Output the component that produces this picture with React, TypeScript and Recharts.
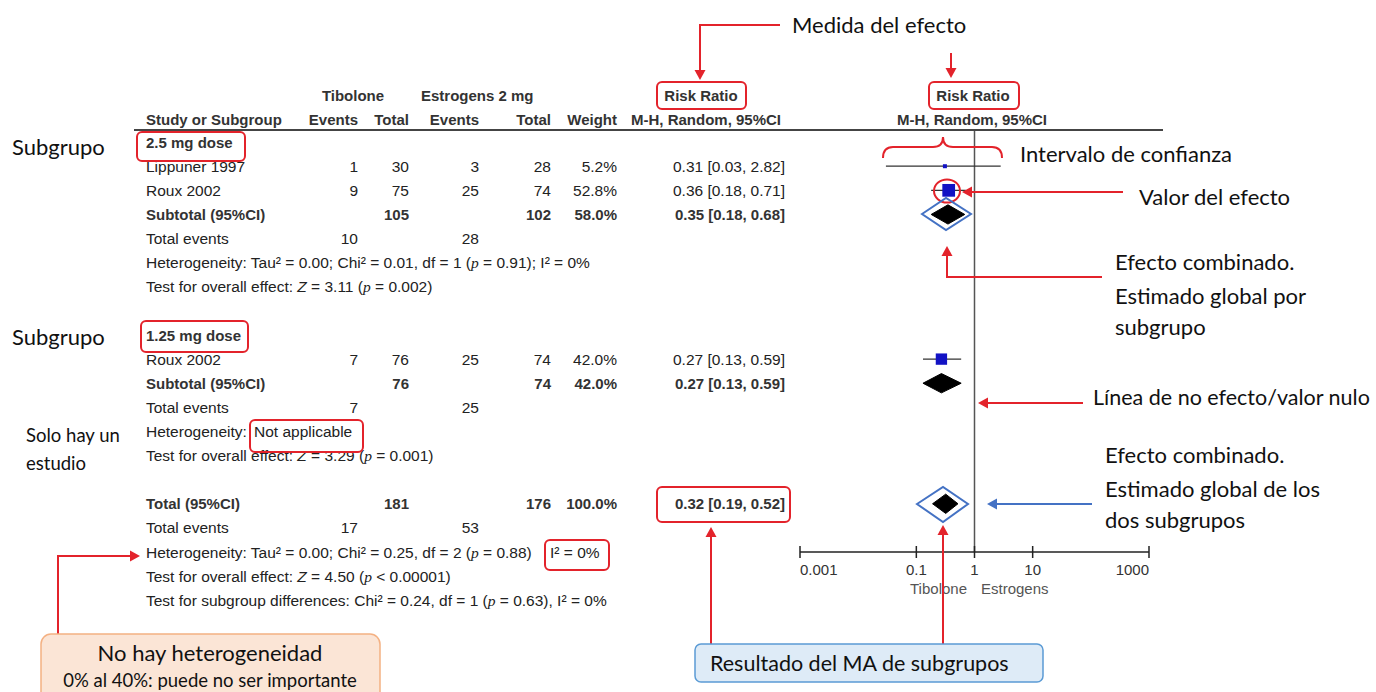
import React from 'react';
import { ComposedChart, XAxis, YAxis, Scatter, ErrorBar, Area, ReferenceLine } from 'recharts';

// ---- data ----
const studyNames = ['Lippuner 1997', 'Roux 2002', 'Roux 2002'];
const studyRows = [1, 2, 9];
const tibEvents = [1, 9, 7];
const tibTotal = [30, 75, 76];
const estEvents = [3, 25, 25];
const estTotal = [28, 74, 74];
const studyWeight = [5.2, 52.8, 42.0];
const studyRR = [0.31, 0.36, 0.27];
const studyLow = [0.03, 0.18, 0.13];
const studyHigh = [2.82, 0.71, 0.59];

const pooledNames = ['Subtotal (95%CI)', 'Subtotal (95%CI)', 'Total (95%CI)'];
const pooledRows = [3, 10, 15];
const pooledTibTotal = [105, 76, 181];
const pooledEstTotal = [102, 74, 176];
const pooledWeight = ['58.0%', '42.0%', '100.0%'];
const pooledRR = [0.35, 0.27, 0.32];
const pooledLow = [0.18, 0.13, 0.19];
const pooledHigh = [0.68, 0.59, 0.52];

const eventRows = [4, 11, 16];
const tibEventTotals = [10, 7, 17];
const estEventTotals = [28, 25, 53];

const axisTicks = [0.001, 0.1, 1, 10, 1000];

// ---- layout ----
const W = 1376;
const H = 692;
const MARGIN = { top: 118, right: 227, bottom: 110, left: 800 };
const X_AXIS_H = 30;
const AXIS_Y = H - MARGIN.bottom - X_AXIS_H;
const ROW_MIN = -1;
const ROW_MAX = 17;
const ROW_H = (AXIS_Y - MARGIN.top) / (ROW_MAX - ROW_MIN);
const rowY = (r: number) => MARGIN.top + (r - ROW_MIN) * ROW_H;
const DIAMOND_H = 0.4;

const RED = '#e3232b';
const BLUE = '#4472c4';
const TABLE_FONT = "'Liberation Sans', Arial, sans-serif";
const NOTE_FONT = "Lato, 'Open Sans', sans-serif";
const FS = 15.5;
const FS_BOLD = 15;

const studyData = studyRR.map((rr, i) => ({
  x: rr,
  row: studyRows[i],
  weight: studyWeight[i],
  err: [rr - studyLow[i], studyHigh[i] - rr],
}));

const diamondData = pooledRR.map((rr, i) => [
  { x: pooledLow[i], band: [pooledRows[i], pooledRows[i]] },
  { x: rr, band: [pooledRows[i] - DIAMOND_H, pooledRows[i] + DIAMOND_H] },
  { x: pooledHigh[i], band: [pooledRows[i], pooledRows[i]] },
]);

const ci = (rr: number, lo: number, hi: number) =>
  `${rr.toFixed(2)} [${lo.toFixed(2)}, ${hi.toFixed(2)}]`;

const StudySquare = (props: any) => {
  const { cx, cy, payload } = props;
  const s = Math.sqrt(payload.weight) * 1.75;
  return <rect x={cx - s / 2} y={cy - s / 2} width={s} height={s} fill="#1212c4" />;
};

const LogTick = (props: any) => {
  const { x, payload } = props;
  const v = payload.value;
  const anchor = v === axisTicks[0] ? 'start' : v === axisTicks[axisTicks.length - 1] ? 'end' : 'middle';
  return (
    <g>
      <line x1={x} x2={x} y1={AXIS_Y - 6} y2={AXIS_Y + 6} stroke="#222" strokeWidth={1.5} />
      <text x={x} y={AXIS_Y + 23} textAnchor={anchor} fontFamily={TABLE_FONT} fontSize={15} fill="#333">
        {String(v)}
      </text>
    </g>
  );
};

const T = ({ x, y, children, anchor = 'end', bold = false }: any) => (
  <text x={x} y={y + 5.5} textAnchor={anchor} fontFamily={TABLE_FONT} fontSize={bold ? FS_BOLD : FS}
    fontWeight={bold ? 'bold' : 'normal'} fill={bold ? '#333' : '#222'}>
    {children}
  </text>
);

const Pi = () => <tspan fontFamily="'Liberation Serif', serif" fontStyle="italic">p</tspan>;
const Zi = () => <tspan fontStyle="italic">Z</tspan>;

const N = ({ x, y, children, size = 22, anchor = 'start' }: any) => (
  <text x={x} y={y + size * 0.36} textAnchor={anchor} fontFamily={NOTE_FONT} fontSize={size} fill="#111">
    {children}
  </text>
);

const Arrow = ({ pts, color = RED, w = 2 }: { pts: number[][]; color?: string; w?: number }) => {
  const [x1, y1] = pts[pts.length - 2];
  const [x2, y2] = pts[pts.length - 1];
  const len = Math.hypot(x2 - x1, y2 - y1);
  const ux = (x2 - x1) / len;
  const uy = (y2 - y1) / len;
  const hl = 10;
  const hw = 5.5;
  const bx = x2 - ux * hl;
  const by = y2 - uy * hl;
  const line = [...pts.slice(0, -1), [bx, by]].map(p => p.join(',')).join(' ');
  const head = `${x2},${y2} ${bx - uy * hw},${by + ux * hw} ${bx + uy * hw},${by - ux * hw}`;
  return (
    <g>
      <polyline points={line} fill="none" stroke={color} strokeWidth={w} />
      <polygon points={head} fill={color} />
    </g>
  );
};

const Box = ({ x, y, w, h }: any) => (
  <rect x={x} y={y} width={w} height={h} rx={5} fill="none" stroke={RED} strokeWidth={2} />
);

const Overlay = () => {
  const C = { ev1: 358, tot1: 409, ev2: 479, tot2: 551, wt: 617, rr: 785 };
  return (
    <svg width={W} height={H} style={{ position: 'absolute', left: 0, top: 0, pointerEvents: 'none' }}>
      {/* headers */}
      <T x={353} y={95} anchor="middle" bold>Tibolone</T>
      <T x={421} y={95} anchor="start" bold>Estrogens 2 mg</T>
      <T x={701} y={95} anchor="middle" bold>Risk Ratio</T>
      <T x={973} y={95} anchor="middle" bold>Risk Ratio</T>
      <T x={146} y={119} anchor="start" bold>Study or Subgroup</T>
      <T x={C.ev1} y={119} bold>Events</T>
      <T x={C.tot1} y={119} bold>Total</T>
      <T x={C.ev2} y={119} bold>Events</T>
      <T x={C.tot2} y={119} bold>Total</T>
      <T x={C.wt} y={119} bold>Weight</T>
      <T x={781} y={119} bold>M-H, Random, 95%CI</T>
      <T x={972} y={119} anchor="middle" bold>M-H, Random, 95%CI</T>
      <line x1={134} x2={1163} y1={130} y2={130} stroke="#444" strokeWidth={2} />

      {/* subgroup titles */}
      <T x={146} y={rowY(0)} anchor="start" bold>2.5 mg dose</T>
      <T x={146} y={rowY(8)} anchor="start" bold>1.25 mg dose</T>

      {/* study rows */}
      {studyNames.map((name, i) => {
        const y = rowY(studyRows[i]);
        return (
          <g key={'s' + i}>
            <T x={146} y={y} anchor="start">{name}</T>
            <T x={C.ev1} y={y}>{tibEvents[i]}</T>
            <T x={C.tot1} y={y}>{tibTotal[i]}</T>
            <T x={C.ev2} y={y}>{estEvents[i]}</T>
            <T x={C.tot2} y={y}>{estTotal[i]}</T>
            <T x={C.wt} y={y}>{studyWeight[i].toFixed(1)}%</T>
            <T x={C.rr} y={y}>{ci(studyRR[i], studyLow[i], studyHigh[i])}</T>
          </g>
        );
      })}

      {/* pooled rows */}
      {pooledNames.map((name, i) => {
        const y = rowY(pooledRows[i]);
        return (
          <g key={'p' + i}>
            <T x={146} y={y} anchor="start" bold>{name}</T>
            <T x={C.tot1} y={y} bold>{pooledTibTotal[i]}</T>
            <T x={C.tot2} y={y} bold>{pooledEstTotal[i]}</T>
            <T x={C.wt} y={y} bold>{pooledWeight[i]}</T>
            <T x={C.rr} y={y} bold>{ci(pooledRR[i], pooledLow[i], pooledHigh[i])}</T>
          </g>
        );
      })}

      {eventRows.map((r, i) => (
        <g key={'e' + i}>
          <T x={146} y={rowY(r)} anchor="start">Total events</T>
          <T x={C.ev1} y={rowY(r)}>{tibEventTotals[i]}</T>
          <T x={C.ev2} y={rowY(r)}>{estEventTotals[i]}</T>
        </g>
      ))}

      <T x={146} y={rowY(5)} anchor="start">Heterogeneity: Tau² = 0.00; Chi² = 0.01, df = 1 (<Pi /> = 0.91); I² = 0%</T>
      <T x={146} y={rowY(6)} anchor="start">Test for overall effect: <Zi /> = 3.11 (<Pi /> = 0.002)</T>
      <T x={146} y={rowY(12)} anchor="start">Heterogeneity:</T>
      <T x={254} y={rowY(12)} anchor="start">Not applicable</T>
      <T x={146} y={rowY(13)} anchor="start">Test for overall effect: <Zi /> = 3.29 (<Pi /> = 0.001)</T>
      <T x={146} y={rowY(17)} anchor="start">Heterogeneity: Tau² = 0.00; Chi² = 0.25, df = 2 (<Pi /> = 0.88)</T>
      <T x={550} y={rowY(17)} anchor="start">I² = 0%</T>
      <T x={146} y={rowY(18)} anchor="start">Test for overall effect: <Zi /> = 4.50 (<Pi /> &lt; 0.00001)</T>
      <T x={146} y={rowY(19)} anchor="start">Test for subgroup differences: Chi² = 0.24, df = 1 (<Pi /> = 0.63), I² = 0%</T>

      {/* axis captions */}
      <text x={967} y={594} textAnchor="end" fontFamily={TABLE_FONT} fontSize={15} fill="#555">Tibolone</text>
      <text x={981} y={594} textAnchor="start" fontFamily={TABLE_FONT} fontSize={15} fill="#555">Estrogens</text>

      {/* red highlight boxes */}
      <Box x={657} y={82} w={89} h={27} />
      <Box x={929} y={82} w={90} h={27} />
      <Box x={137} y={132} w={108} h={29} />
      <Box x={141} y={321} w={107} h={31} />
      <Box x={250} y={420} w={113} h={32} />
      <Box x={545} y={540} w={64} h={30} />
      <Box x={657} y={487} w={133} h={35} />

      {/* brace, ellipse, outlines */}
      <path d="M883,158 Q883,147 893,147 L933,147 Q943,147 943,137 Q943,147 953,147 L992,147 Q1002,147 1002,158"
        fill="none" stroke={RED} strokeWidth={2} />
      <ellipse cx={947} cy={191} rx={13} ry={11.5} fill="none" stroke={RED} strokeWidth={2} />
      <polygon points="922,214 946,198 971,214 946,230" fill="none" stroke={BLUE} strokeWidth={2} />
      <polygon points="917,504 943,487 968,504 943,522" fill="none" stroke={BLUE} strokeWidth={2} />

      {/* arrows */}
      <Arrow pts={[[780, 25], [700, 25], [700, 80]]} />
      <Arrow pts={[[951, 53], [951, 78]]} />
      <Arrow pts={[[1123, 192], [962, 192]]} />
      <Arrow pts={[[1102, 277], [947, 277], [947, 246]]} />
      <Arrow pts={[[1083, 403], [978, 403]]} />
      <Arrow pts={[[1092, 504], [987, 504]]} color={BLUE} />
      <Arrow pts={[[58, 634], [58, 556], [140, 556]]} />
      <Arrow pts={[[711, 644], [711, 527]]} />
      <Arrow pts={[[943, 644], [943, 525]]} />

      {/* annotation texts */}
      <N x={792} y={25}>Medida del efecto</N>
      <N x={1020} y={154}>Intervalo de confianza</N>
      <N x={1139} y={197}>Valor del efecto</N>
      <N x={1115} y={262}>Efecto combinado.</N>
      <N x={1115} y={296}>Estimado global por</N>
      <N x={1115} y={327}>subgrupo</N>
      <N x={1093} y={397} size={21.5}>Línea de no efecto/valor nulo</N>
      <N x={1105} y={455}>Efecto combinado.</N>
      <N x={1105} y={489}>Estimado global de los</N>
      <N x={1105} y={520}>dos subgrupos</N>
      <N x={12} y={147}>Subgrupo</N>
      <N x={12} y={337}>Subgrupo</N>
      <N x={26} y={435} size={18.5}>Solo hay un</N>
      <N x={26} y={463} size={18.5}>estudio</N>

      {/* callout boxes */}
      <rect x={41} y={634} width={339} height={80} rx={10} fill="#fbe5d6" stroke="#f4b183" strokeWidth={1.5} />
      <N x={210} y={653} anchor="middle">No hay heterogeneidad</N>
      <N x={210} y={680} size={18.5} anchor="middle">0% al 40%: puede no ser importante</N>
      <rect x={695} y={644} width={348} height={38} rx={6} fill="#deebf7" stroke="#5b9bd5" strokeWidth={1.5} />
      <N x={710} y={663} size={21.5}>Resultado del MA de subgrupos</N>
    </svg>
  );
};

export default function App() {
  return (
    <div style={{ position: 'absolute', left: 0, top: 0, width: W, height: H, background: '#fff' }}>
      <ComposedChart width={W} height={H} margin={MARGIN}>
        <XAxis type="number" dataKey="x" scale="log" domain={[0.001, 1000]} allowDataOverflow
          ticks={axisTicks} interval={0} height={X_AXIS_H} tickLine={false}
          axisLine={{ stroke: '#222', strokeWidth: 1.5 }} tick={<LogTick />} />
        <YAxis type="number" dataKey="row" domain={[ROW_MIN, ROW_MAX]} reversed hide allowDataOverflow />
        <ReferenceLine segment={[{ x: 1, y: -0.5 }, { x: 1, y: ROW_MAX }]} stroke="#555" strokeWidth={1.5} />
        {diamondData.map((d, i) => (
          <Area key={i} data={d} dataKey="band" type="linear" stroke="#000" strokeWidth={1}
            fill="#000" fillOpacity={1} dot={false} activeDot={false} isAnimationActive={false} />
        ))}
        <Scatter data={studyData} shape={<StudySquare />} isAnimationActive={false}>
          <ErrorBar dataKey="err" direction="x" width={0} stroke="#333" strokeWidth={1.3} isAnimationActive={false} />
        </Scatter>
      </ComposedChart>
      <Overlay />
    </div>
  );
}
